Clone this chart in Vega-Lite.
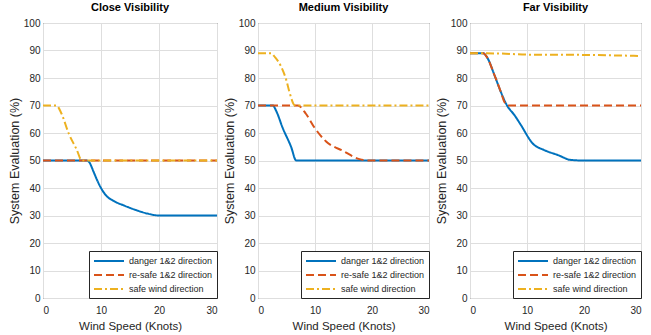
{
  "$schema": "https://vega.github.io/schema/vega-lite/v6.json",
  "padding": {"left": 7, "top": 1, "right": 5, "bottom": 0},
  "spacing": 0,
  "datasets": {
    "curves": [
      {"panel": "Close", "series": "danger 1&2 direction", "speed": 0, "value": 50},
      {"panel": "Close", "series": "danger 1&2 direction", "speed": 7.5, "value": 50},
      {"panel": "Close", "series": "danger 1&2 direction", "speed": 8, "value": 49.3},
      {"panel": "Close", "series": "danger 1&2 direction", "speed": 8.7, "value": 46},
      {"panel": "Close", "series": "danger 1&2 direction", "speed": 9.3, "value": 43},
      {"panel": "Close", "series": "danger 1&2 direction", "speed": 10, "value": 40},
      {"panel": "Close", "series": "danger 1&2 direction", "speed": 11, "value": 37},
      {"panel": "Close", "series": "danger 1&2 direction", "speed": 12, "value": 35.5},
      {"panel": "Close", "series": "danger 1&2 direction", "speed": 14, "value": 33.6},
      {"panel": "Close", "series": "danger 1&2 direction", "speed": 16, "value": 32},
      {"panel": "Close", "series": "danger 1&2 direction", "speed": 18, "value": 30.7},
      {"panel": "Close", "series": "danger 1&2 direction", "speed": 20, "value": 30},
      {"panel": "Close", "series": "danger 1&2 direction", "speed": 30, "value": 30},
      {"panel": "Close", "series": "re-safe 1&2 direction", "speed": 0, "value": 50},
      {"panel": "Close", "series": "re-safe 1&2 direction", "speed": 30, "value": 50},
      {"panel": "Close", "series": "safe wind direction", "speed": 0, "value": 70},
      {"panel": "Close", "series": "safe wind direction", "speed": 2.3, "value": 70},
      {"panel": "Close", "series": "safe wind direction", "speed": 3.2, "value": 67},
      {"panel": "Close", "series": "safe wind direction", "speed": 4.4, "value": 60},
      {"panel": "Close", "series": "safe wind direction", "speed": 5.8, "value": 54},
      {"panel": "Close", "series": "safe wind direction", "speed": 6.7, "value": 50},
      {"panel": "Close", "series": "safe wind direction", "speed": 30, "value": 50},

      {"panel": "Medium", "series": "danger 1&2 direction", "speed": 0, "value": 70},
      {"panel": "Medium", "series": "danger 1&2 direction", "speed": 2.6, "value": 70},
      {"panel": "Medium", "series": "danger 1&2 direction", "speed": 3.2, "value": 68},
      {"panel": "Medium", "series": "danger 1&2 direction", "speed": 4.3, "value": 62},
      {"panel": "Medium", "series": "danger 1&2 direction", "speed": 5.8, "value": 55},
      {"panel": "Medium", "series": "danger 1&2 direction", "speed": 6.7, "value": 50},
      {"panel": "Medium", "series": "danger 1&2 direction", "speed": 30, "value": 50},
      {"panel": "Medium", "series": "re-safe 1&2 direction", "speed": 0, "value": 70},
      {"panel": "Medium", "series": "re-safe 1&2 direction", "speed": 7, "value": 70},
      {"panel": "Medium", "series": "re-safe 1&2 direction", "speed": 8.4, "value": 67},
      {"panel": "Medium", "series": "re-safe 1&2 direction", "speed": 9.9, "value": 62},
      {"panel": "Medium", "series": "re-safe 1&2 direction", "speed": 11.9, "value": 57},
      {"panel": "Medium", "series": "re-safe 1&2 direction", "speed": 14.9, "value": 53.5},
      {"panel": "Medium", "series": "re-safe 1&2 direction", "speed": 17.8, "value": 50.5},
      {"panel": "Medium", "series": "re-safe 1&2 direction", "speed": 19.5, "value": 50},
      {"panel": "Medium", "series": "re-safe 1&2 direction", "speed": 30, "value": 50},
      {"panel": "Medium", "series": "safe wind direction", "speed": 0, "value": 89},
      {"panel": "Medium", "series": "safe wind direction", "speed": 2.3, "value": 89},
      {"panel": "Medium", "series": "safe wind direction", "speed": 3, "value": 87.5},
      {"panel": "Medium", "series": "safe wind direction", "speed": 4, "value": 84.4},
      {"panel": "Medium", "series": "safe wind direction", "speed": 5, "value": 79},
      {"panel": "Medium", "series": "safe wind direction", "speed": 5.5, "value": 75},
      {"panel": "Medium", "series": "safe wind direction", "speed": 6.5, "value": 70},
      {"panel": "Medium", "series": "safe wind direction", "speed": 30, "value": 70},

      {"panel": "Far", "series": "danger 1&2 direction", "speed": 0, "value": 89},
      {"panel": "Far", "series": "danger 1&2 direction", "speed": 2.3, "value": 89},
      {"panel": "Far", "series": "danger 1&2 direction", "speed": 3, "value": 87.5},
      {"panel": "Far", "series": "danger 1&2 direction", "speed": 4.3, "value": 81},
      {"panel": "Far", "series": "danger 1&2 direction", "speed": 5.4, "value": 75},
      {"panel": "Far", "series": "danger 1&2 direction", "speed": 6.5, "value": 70},
      {"panel": "Far", "series": "danger 1&2 direction", "speed": 7.8, "value": 66.5},
      {"panel": "Far", "series": "danger 1&2 direction", "speed": 8.9, "value": 63},
      {"panel": "Far", "series": "danger 1&2 direction", "speed": 11, "value": 56.2},
      {"panel": "Far", "series": "danger 1&2 direction", "speed": 13, "value": 53.8},
      {"panel": "Far", "series": "danger 1&2 direction", "speed": 15.4, "value": 52},
      {"panel": "Far", "series": "danger 1&2 direction", "speed": 17.7, "value": 50.2},
      {"panel": "Far", "series": "danger 1&2 direction", "speed": 20, "value": 50},
      {"panel": "Far", "series": "danger 1&2 direction", "speed": 30, "value": 50},
      {"panel": "Far", "series": "re-safe 1&2 direction", "speed": 0, "value": 89},
      {"panel": "Far", "series": "re-safe 1&2 direction", "speed": 2.3, "value": 89},
      {"panel": "Far", "series": "re-safe 1&2 direction", "speed": 3, "value": 87.5},
      {"panel": "Far", "series": "re-safe 1&2 direction", "speed": 4.3, "value": 81},
      {"panel": "Far", "series": "re-safe 1&2 direction", "speed": 5.4, "value": 75},
      {"panel": "Far", "series": "re-safe 1&2 direction", "speed": 6, "value": 71.4},
      {"panel": "Far", "series": "re-safe 1&2 direction", "speed": 6.7, "value": 70},
      {"panel": "Far", "series": "re-safe 1&2 direction", "speed": 30, "value": 70},
      {"panel": "Far", "series": "safe wind direction", "speed": 0, "value": 89},
      {"panel": "Far", "series": "safe wind direction", "speed": 5, "value": 88.9},
      {"panel": "Far", "series": "safe wind direction", "speed": 10, "value": 88.5},
      {"panel": "Far", "series": "safe wind direction", "speed": 20, "value": 88.4},
      {"panel": "Far", "series": "safe wind direction", "speed": 30, "value": 88}
    ]
  },
  "data": {"name": "curves"},
  "resolve": {
    "scale": {"color": "independent", "strokeDash": "independent"},
    "legend": {"color": "independent", "strokeDash": "independent"}
  },
  "hconcat": [
    {
      "width": 174, "height": 275,
      "title": "Close Visibility",
      "transform": [{"filter": "datum.panel === 'Close'"}],
      "mark": {"type": "line", "interpolate": "monotone", "strokeWidth": 2},
      "encoding": {
        "x": {"field": "speed", "type": "quantitative", "title": "Wind Speed (Knots)", "scale": {"domain": [0, 30], "nice": false}, "axis": {"values": [0, 10, 20, 30]}},
        "y": {"field": "value", "type": "quantitative", "title": "System Evaluation (%)", "scale": {"domain": [0, 100], "nice": false}, "axis": {"values": [0, 10, 20, 30, 40, 50, 60, 70, 80, 90, 100]}},
        "color": {"field": "series", "type": "nominal", "scale": {"domain": ["danger 1&2 direction", "re-safe 1&2 direction", "safe wind direction"], "range": ["#0072BD", "#D95319", "#EDB120"]}, "legend": {"title": null}},
        "strokeDash": {"field": "series", "type": "nominal", "scale": {"domain": ["danger 1&2 direction", "re-safe 1&2 direction", "safe wind direction"], "range": [[1, 0], [8, 4], [8, 3, 2, 3]]}, "legend": {"title": null}}
      }
    },
    {
      "width": 171, "height": 275,
      "title": "Medium Visibility",
      "transform": [{"filter": "datum.panel === 'Medium'"}],
      "mark": {"type": "line", "interpolate": "monotone", "strokeWidth": 2},
      "encoding": {
        "x": {"field": "speed", "type": "quantitative", "title": "Wind Speed (Knots)", "scale": {"domain": [0, 30], "nice": false}, "axis": {"values": [0, 10, 20, 30]}},
        "y": {"field": "value", "type": "quantitative", "title": "System Evaluation (%)", "scale": {"domain": [0, 100], "nice": false}, "axis": {"values": [0, 10, 20, 30, 40, 50, 60, 70, 80, 90, 100]}},
        "color": {"field": "series", "type": "nominal", "scale": {"domain": ["danger 1&2 direction", "re-safe 1&2 direction", "safe wind direction"], "range": ["#0072BD", "#D95319", "#EDB120"]}, "legend": {"title": null}},
        "strokeDash": {"field": "series", "type": "nominal", "scale": {"domain": ["danger 1&2 direction", "re-safe 1&2 direction", "safe wind direction"], "range": [[1, 0], [8, 4], [8, 3, 2, 3]]}, "legend": {"title": null}}
      }
    },
    {
      "width": 171, "height": 275,
      "title": "Far Visibility",
      "transform": [{"filter": "datum.panel === 'Far'"}],
      "mark": {"type": "line", "interpolate": "monotone", "strokeWidth": 2},
      "encoding": {
        "x": {"field": "speed", "type": "quantitative", "title": "Wind Speed (Knots)", "scale": {"domain": [0, 30], "nice": false}, "axis": {"values": [0, 10, 20, 30]}},
        "y": {"field": "value", "type": "quantitative", "title": "System Evaluation (%)", "scale": {"domain": [0, 100], "nice": false}, "axis": {"values": [0, 10, 20, 30, 40, 50, 60, 70, 80, 90, 100]}},
        "color": {"field": "series", "type": "nominal", "scale": {"domain": ["danger 1&2 direction", "re-safe 1&2 direction", "safe wind direction"], "range": ["#0072BD", "#D95319", "#EDB120"]}, "legend": {"title": null}},
        "strokeDash": {"field": "series", "type": "nominal", "scale": {"domain": ["danger 1&2 direction", "re-safe 1&2 direction", "safe wind direction"], "range": [[1, 0], [8, 4], [8, 3, 2, 3]]}, "legend": {"title": null}}
      }
    }
  ],
  "config": {
    "font": "Liberation Sans, Arial, sans-serif",
    "view": {"stroke": "#333333", "strokeWidth": 1},
    "title": {"fontSize": 11, "fontWeight": "bold", "color": "#000000", "offset": 5, "anchor": "middle"},
    "axis": {
      "labelFontSize": 10, "labelColor": "#262626", "labelPadding": 3,
      "titleFontSize": 11, "titleFontWeight": "normal", "titleColor": "#262626",
      "ticks": false, "domain": false,
      "gridColor": "#dedede", "gridWidth": 1
    },
    "axisY": {"minExtent": 18, "maxExtent": 18, "titlePadding": 4, "titleFontSize": 12.5},
    "axisX": {"titlePadding": 5, "labelPadding": 7, "titleFontSize": 11.5},
    "legend": {
      "orient": "bottom-right", "offset": 0, "padding": 4, "rowPadding": 3,
      "strokeColor": "#262626", "fillColor": "#ffffff", "cornerRadius": 0,
      "labelFontSize": 9, "labelColor": "#262626", "labelOffset": 14,
      "symbolType": "M-3,0H3", "symbolSize": 100, "symbolStrokeWidth": 2, "symbolOffset": 10,
      "symbolFillColor": "transparent"
    }
  }
}
